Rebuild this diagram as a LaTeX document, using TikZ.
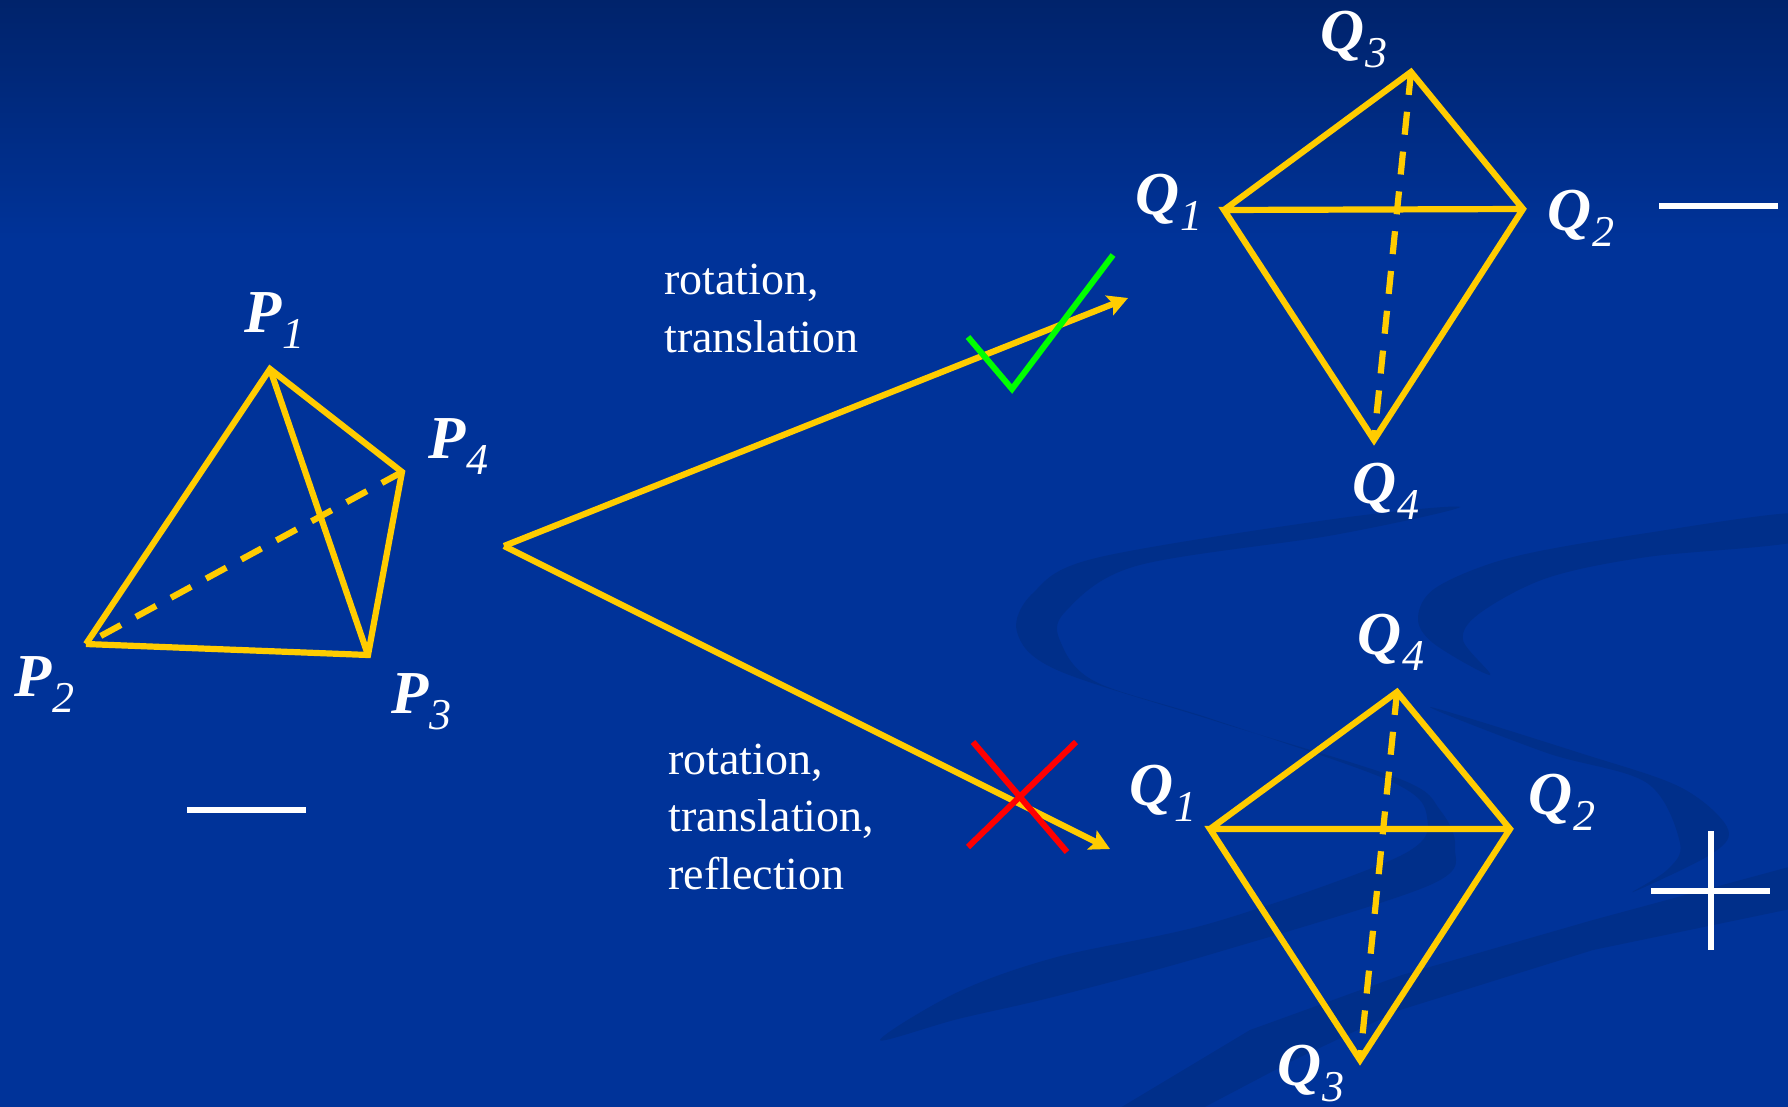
\documentclass[tikz,border=0pt]{standalone}
\usepackage{fontspec}
\setmainfont{Liberation Serif}
\usetikzlibrary{arrows.meta}
\definecolor{slide}{HTML}{003399}
\definecolor{slidetop}{HTML}{00236B}
\definecolor{swoosh}{HTML}{002F8A}
\definecolor{edge}{HTML}{FFCC00}
\definecolor{tick}{HTML}{00FF00}
\definecolor{cross}{HTML}{FF0000}
\newcommand{\ptname}[2]{{\fontsize{30.5}{30}\selectfont\bfseries\itshape #1}\kern0.4pt\raisebox{-8pt}{\fontsize{22}{22}\selectfont\itshape #2}}
\tikzset{
  >={Stealth[length=10pt,width=10.5pt,inset=2pt]},
  solidedge/.style={draw=edge,line width=3.1pt},
  hidden/.style={draw=edge,line width=3.1pt,dash pattern=on 11.5pt off 8.5pt},
  arr/.style={->,draw=edge,line width=3.1pt},
  vertex/.style={anchor=base west,inner sep=0,text=white},
  note/.style={anchor=base west,inner sep=0,text=white,align=left,font=\fontsize{23}{28.7}\selectfont},
  sign/.style={draw=white,line width=3pt},
}
\begin{document}
\begin{tikzpicture}[x=0.5pt,y=-0.5pt]
  \useasboundingbox (0,0) rectangle (1788,1107);
  \clip (0,0) rectangle (1788,1107);
  % slide background
  \fill[slide] (0,0) rectangle (1788,1107);
  \shade[top color=slidetop,bottom color=slide] (0,0) rectangle (1788,240);
  \fill[swoosh] plot[smooth cycle,tension=0.55] coordinates {(1460,507) (1334,519) (1096,558) (1033,593) (1017,632) (1057,670) (1215,721) (1400,779) (1440,810) (1455,847) (1430,885) (1215,953) (1057,996) (958,1019) (880,1040) (958,992) (1057,957) (1215,922) (1400,856) (1427,817) (1390,781) (1215,720) (1096,682) (1061,643) (1065,612) (1136,566) (1334,535)};
  \fill[swoosh] plot[smooth cycle,tension=0.55] coordinates {(1800,513) (1647,533) (1513,557) (1437,587) (1418,617) (1433,643) (1490,675) (1463,640) (1480,613) (1547,578) (1647,557) (1800,541)};
  \fill[swoosh] plot[smooth cycle,tension=0.55] coordinates {(1430,707) (1580,753) (1680,787) (1727,827) (1713,853) (1633,892) (1667,870) (1680,843) (1647,783) (1547,753)};
  \fill[swoosh] (1800,864) -- (1593,920) -- (1402,975) -- (1250,1030) -- (1100,1120) -- (1180,1120) -- (1294,1060) -- (1400,1010) -- (1593,950) -- (1800,907) -- cycle;
  % left tetrahedron
  \coordinate (P1) at (270,369);
  \coordinate (P2) at (86,644);
  \coordinate (P3) at (368,655);
  \coordinate (P4) at (402,472);
  \draw[hidden] (P4) -- (P2);
  \draw[solidedge] (P2) -- (P1) -- (P4) -- (P3) -- (P2);
  \draw[solidedge] (P1) -- (P3);
  \node[vertex] (lP1) at (244,332) {\ptname{P}{1}};
  \node[vertex] (lP2) at (14,696) {\ptname{P}{2}};
  \node[vertex] (lP3) at (391,713) {\ptname{P}{3}};
  \node[vertex] (lP4) at (428,458) {\ptname{P}{4}};
  \coordinate (m1) at (187,810); \coordinate (m2) at (306,810);
  \draw[sign] (m1) -- (m2);
  % arrows
  \coordinate (fork) at (504,546);
  \coordinate (up) at (1128,298);
  \coordinate (down) at (1110,849);
  \draw[arr] (fork) -- (up);
  \draw[arr] (fork) -- (down);
  \node[note] (rigid) at (664,352) {rotation,\\translation};
  \node[note] (mirror) at (668,889) {rotation,\\translation,\\reflection};
  \coordinate (g1) at (968,337); \coordinate (g2) at (1012,389); \coordinate (g3) at (1113,255);
  \draw[draw=tick,line width=3pt] (g1) -- (g2) -- (g3);
  \coordinate (r1) at (973,742); \coordinate (r2) at (1067,852);
  \coordinate (r3) at (1076,742); \coordinate (r4) at (968,847);
  \draw[draw=cross,line width=3pt] (r1) -- (r2);
  \draw[draw=cross,line width=3pt] (r3) -- (r4);
  % upper kite
  \coordinate (A1) at (1224,210);
  \coordinate (A2) at (1523,209);
  \coordinate (A3) at (1411,72);
  \coordinate (A4) at (1374,440);
  \draw[hidden] (A3) -- (A4);
  \draw[solidedge] (A1) -- (A3) -- (A2) -- (A4) -- (A1) -- (A2);
  \node[vertex] (lA1) at (1135,215) {\ptname{Q}{1}};
  \node[vertex] (lA2) at (1547,231) {\ptname{Q}{2}};
  \node[vertex] (lA3) at (1320,52) {\ptname{Q}{3}};
  \node[vertex] (lA4) at (1352,503) {\ptname{Q}{4}};
  \coordinate (m3) at (1659,206); \coordinate (m4) at (1778,206);
  \draw[sign] (m3) -- (m4);
  % lower kite
  \coordinate (B1) at (1210,829);
  \coordinate (B2) at (1510,829);
  \coordinate (B3) at (1360,1060);
  \coordinate (B4) at (1397,692);
  \draw[hidden] (B4) -- (B3);
  \draw[solidedge] (B1) -- (B4) -- (B2) -- (B3) -- (B1) -- (B2);
  \node[vertex] (lB1) at (1129,805) {\ptname{Q}{1}};
  \node[vertex] (lB2) at (1528,814) {\ptname{Q}{2}};
  \node[vertex] (lB3) at (1277,1085) {\ptname{Q}{3}};
  \node[vertex] (lB4) at (1357,654) {\ptname{Q}{4}};
  \coordinate (h1) at (1651,891); \coordinate (h2) at (1770,891);
  \coordinate (v1) at (1711,831); \coordinate (v2) at (1711,950);
  \draw[sign] (h1) -- (h2);
  \draw[sign] (v1) -- (v2);
\end{tikzpicture}
\end{document}
